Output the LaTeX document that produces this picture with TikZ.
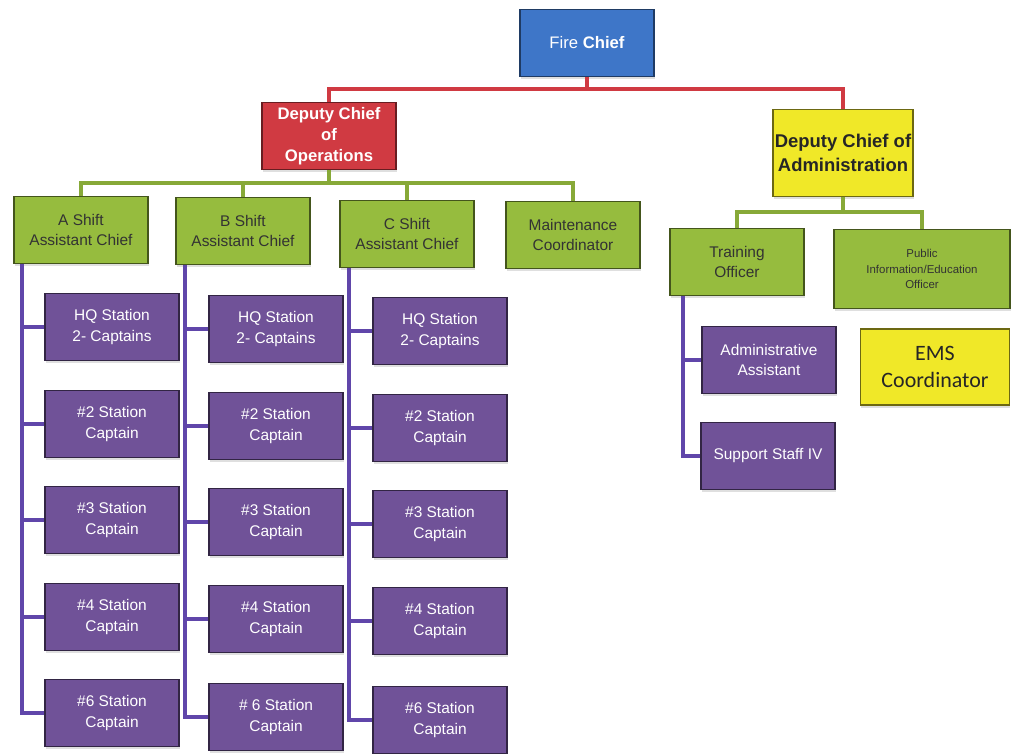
\documentclass[tikz,border=0pt]{standalone}
\usepackage{fontspec}
\setmainfont{Liberation Sans}
\newfontfamily\calib{Carlito}
\usepackage{xcolor}
\definecolor{chiefblue}{RGB}{62,118,200}
\definecolor{opsred}{RGB}{208,58,66}
\definecolor{admyellow}{RGB}{240,232,40}
\definecolor{shiftgreen}{RGB}{150,188,62}
\definecolor{stationpurple}{RGB}{112,82,152}
\definecolor{linepurple}{RGB}{96,70,170}
\usepackage{tikz}
\usetikzlibrary{positioning, calc, shadows}

\begin{document}
\begin{tikzpicture}[x=0.02cm, y=-0.02cm,
  box/.style={rectangle, line width=0.9pt, minimum width=2.68cm, minimum height=1.34cm, inner sep=1pt, align=center, font=\fontsize{8.8}{11.5}\selectfont, drop shadow={opacity=0.25, shadow xshift=0.5pt, shadow yshift=-1.5pt}},
  chief/.style={box, draw=chiefblue!50!black, fill=chiefblue, text=white, font=\fontsize{9.5}{11.5}\selectfont},
  ops/.style={box, draw=opsred!50!black, fill=opsred, text=white, font=\bfseries\fontsize{9.5}{12}\selectfont},
  adm/.style={box, draw=admyellow!45!black, fill=admyellow, text=black!85},
  shiftbox/.style={box, draw=shiftgreen!45!black, fill=shiftgreen, text=black!80},
  station/.style={box, draw=stationpurple!45!black, fill=stationpurple, text=white},
  redline/.style={line width=2.2pt, opsred},
  greenline/.style={line width=2.2pt, shiftgreen!90!black},
  purpline/.style={line width=2pt, linepurple}
]
  \useasboundingbox (0,0) rectangle (1013,753);

  % top levels
  \node[chief] (fire) at (587,43) {Fire \textbf{Chief}};
  \node[ops] (depops) at (329,136) {Deputy Chief\\of\\Operations};
  \node[adm, minimum height=1.74cm, font=\bfseries\fontsize{10.5}{14}\selectfont] (depadm) at (843,153) {Deputy Chief of\\Administration};

  \coordinate (rbus) at (587,89);
  \draw[redline] (fire.south) -- (rbus) -| (depops.north);
  \draw[redline] (rbus) -| (depadm.north);

  % operations
  \node[shiftbox] (ashift) at (81,230) {A Shift\\Assistant Chief};
  \node[shiftbox] (bshift) at (243,231) {B Shift\\Assistant Chief};
  \node[shiftbox] (cshift) at (407,234) {C Shift\\Assistant Chief};
  \node[shiftbox] (maint) at (573,235) {Maintenance\\Coordinator};

  \coordinate (gbus) at (329,183);
  \draw[greenline] (depops.south) -- (gbus);
  \draw[greenline] (gbus) -| (ashift.north);
  \draw[greenline] (gbus) -| (bshift.north);
  \draw[greenline] (gbus) -| (cshift.north);
  \draw[greenline] (gbus) -| (maint.north);

  % stations under each shift
  \node[station] (a-6) at (112,713) {\#6 Station\\Captain};
  \node[station] (b-6) at (276,717) {\# 6 Station\\Captain};
  \node[station] (c-6) at (440,720) {\#6 Station\\Captain};
  \foreach \col/\sx/\lx/\dy in {a/112/22/0, b/276/185/2, c/440/349/4}{
    \node[station] (\col-hq) at (\sx,327+\dy) {HQ Station\\2- Captains};
    \node[station] (\col-2) at (\sx,424+\dy) {\#2 Station\\Captain};
    \node[station] (\col-3) at (\sx,520+\dy) {\#3 Station\\Captain};
    \node[station] (\col-4) at (\sx,617+\dy) {\#4 Station\\Captain};
    \coordinate (\col-line) at (\lx,0);
    \foreach \st in {hq,2,3,4}{
      \draw[purpline] (\col-line |- \col-\st.west) -- (\col-\st.west);
    }
  }
  \draw[purpline] (a-line |- ashift.south) -- (a-line |- a-6.west) -- (a-6.west);
  \draw[purpline] (b-line |- bshift.south) -- (b-line |- b-6.west) -- (b-6.west);
  \draw[purpline] (c-line |- cshift.south) -- (c-line |- c-6.west) -- (c-6.west);

  % administration
  \node[shiftbox] (train) at (737,262) {Training\\Officer};
  \node[shiftbox, minimum width=3.52cm, minimum height=1.58cm, font=\fontsize{6.5}{9}\selectfont] (pio) at (922,269) {Public\\Information/Education\\Officer};

  \coordinate (abus) at (843,212);
  \draw[greenline] (depadm.south) -- (abus);
  \draw[greenline] (abus) -| (train.north);
  \draw[greenline] (abus) -| (pio.north);

  \node[station] (admin) at (769,360) {Administrative\\Assistant};
  \node[station] (support) at (768,456) {Support Staff IV};
  \coordinate (tline) at (683,0);
  \draw[purpline] (tline |- train.south) -- (tline |- support.west) -- (support.west);
  \draw[purpline] (tline |- admin.west) -- (admin.west);

  \node[adm, minimum width=2.98cm, minimum height=1.52cm, font=\calib\fontsize{12.5}{15}\selectfont] (ems) at (935,367) {EMS\\Coordinator};
\end{tikzpicture}
\end{document}
